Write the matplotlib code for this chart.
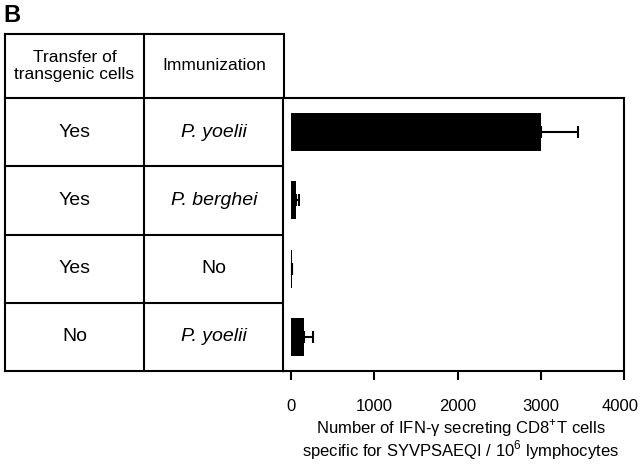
import numpy as np
import matplotlib.pyplot as plt
import matplotlib.transforms as mtransforms

plt.rcParams['font.family'] = ['Liberation Sans', 'DejaVu Sans']
plt.rcParams['mathtext.fontset'] = 'custom'
plt.rcParams['mathtext.rm'] = 'Liberation Sans'

# data
transfer = ['Yes', 'Yes', 'Yes', 'No']
immunization = ['P. yoelii', 'P. berghei', 'No', 'P. yoelii']
italic = [True, True, False, True]
counts = [3000, 60, 10, 150]
errors = [450, 30, 0, 115]
xticks = [0, 1000, 2000, 3000, 4000]

W, H = 640, 468
fig = plt.figure(figsize=(W / 100, H / 100), dpi=100)

# table drawn in pixel coordinates
tab = fig.add_axes([0, 0, 1, 1])
tab.set_xlim(0, W)
tab.set_ylim(H, 0)
tab.axis('off')

x0, xm, x1 = 5, 144, 284
ytop, yhead, ybot = 34, 98, 371
rows = np.linspace(yhead, ybot, len(transfer) + 1)
lw = 1.5

tab.plot([x0, x1], [ytop, ytop], color='black', lw=lw)
for y in rows:
    tab.plot([x0, x1], [y, y], color='black', lw=lw)
for x in (x0, xm, x1):
    tab.plot([x, x], [ytop, ybot], color='black', lw=lw)

tab.text(3, 15, 'B', fontsize=17, fontweight='bold', va='center', ha='left')
tab.text((x0 + xm) / 2, (ytop + yhead) / 2, 'Transfer of\ntransgenic cells',
         ha='center', va='center', fontsize=12.5, linespacing=1.1)
tab.text((xm + x1) / 2, (ytop + yhead) / 2, 'Immunization',
         ha='center', va='center', fontsize=12.5)
for i in range(len(transfer)):
    yc = (rows[i] + rows[i + 1]) / 2
    tab.text((x0 + xm) / 2, yc, transfer[i], ha='center', va='center', fontsize=14)
    tab.text((xm + x1) / 2, yc, immunization[i], ha='center', va='center',
             fontsize=14, style='italic' if italic[i] else 'normal')

# bar chart
ax = fig.add_axes([283 / W, 1 - ybot / H, (624 - 283) / W, (ybot - yhead) / H])
ypos = np.arange(len(counts))
ax.barh(ypos, counts, height=0.56, color='black',
        xerr=[np.zeros(len(errors)), errors],
        error_kw=dict(ecolor='black', elinewidth=1.5, capsize=4.5, capthick=1.5))
ax.set_ylim(len(counts) - 0.5, -0.5)
ax.set_xlim(-100, 4000)
ax.set_yticks([])
ax.set_xticks(xticks)
ax.tick_params(axis='x', direction='out', length=6.5, width=1.5, pad=14, labelsize=12)
for s in ax.spines.values():
    s.set_linewidth(1.5)

# last tick label sits a little left of its tick, as in the original
last = ax.get_xticklabels()[-1]
last.set_transform(last.get_transform() +
                   mtransforms.ScaledTranslation(-4 / 100, 0, fig.dpi_scale_trans))

ax.set_xlabel('Number of IFN-γ secreting CD8$^{+}$T cells\n'
              'specific for SYVPSAEQI / 10$^{6}$ lymphocytes', fontsize=12,
              linespacing=0.95)
ax.xaxis.set_label_coords(0.522, -0.17, transform=ax.transAxes)
ax.xaxis.label.set_va('top')

fig.savefig('out.png', dpi=100)
